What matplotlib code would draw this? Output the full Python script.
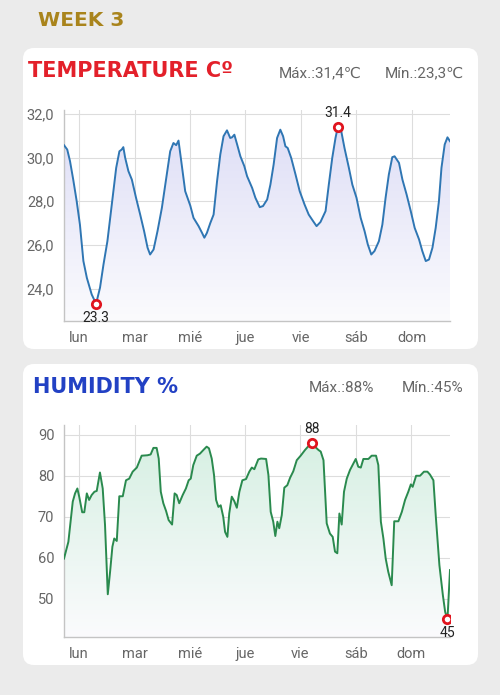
import numpy as np
import matplotlib.pyplot as plt
from matplotlib.patches import FancyBboxPatch
from matplotlib.colors import LinearSegmentedColormap

plt.rcParams['font.family'] = ['Roboto', 'DejaVu Sans']

# week data, x in hours from first reading
days = ['lun', 'mar', 'mié', 'jue', 'vie', 'sáb', 'dom']
first_day_hour = 6.6

temp_hours = [0, 1.4, 2.6, 4.0, 5.5, 6.9, 8.4, 9.9, 12.0, 13.9, 15.6, 17.1, 18.8, 20.7,
              22.6, 24.0, 25.0, 25.7, 26.5, 27.9, 29.4, 31.2, 33.0, 34.7, 36.2, 37.3,
              38.8, 40.5, 42.4, 44.3, 46.0, 47.4, 48.6, 49.6, 50.6, 52.5, 54.7, 56.1,
              58.3, 59.8, 60.8, 61.9, 63.4, 64.8, 66.3, 67.7, 69.1, 70.6, 72.0, 72.8,
              73.8, 75.0, 76.4, 78.1, 79.3, 81.5, 82.9, 84.8, 86.2, 88.0, 89.4, 90.8,
              92.3, 93.7, 94.9, 95.9, 96.9, 98.4, 100.3, 102.1, 104.2, 106.0, 107.9,
              109.4, 111.1, 113.3, 114.7, 116.2, 117.6, 118.6, 120.1, 121.5, 123.4,
              124.9, 126.7, 128.5, 130.2, 131.6, 133.1, 134.5, 136.4, 137.9, 139.3,
              140.7, 142.2, 143.2, 145.1, 146.6, 148.4, 150.2, 151.9, 153.8, 155.2,
              156.7, 158.1, 159.6, 161.0, 162.4, 163.5, 164.9, 166.1, 167.2]
temp_vals = [30.57, 30.37, 29.84, 28.99, 28.0, 26.93, 25.26, 24.49, 23.73, 23.3, 24.04,
             25.1, 26.17, 27.85, 29.53, 30.29, 30.37, 30.48, 29.99, 29.38, 28.99, 28.16,
             27.39, 26.63, 25.87, 25.56, 25.79, 26.63, 27.70, 29.07, 30.29, 30.67, 30.57,
             30.78, 29.99, 28.46, 27.8, 27.24, 26.86, 26.55, 26.33, 26.55, 27.01, 27.39,
             28.92, 30.14, 30.98, 31.25, 30.90, 30.93, 31.05, 30.60, 30.06, 29.61, 29.15,
             28.61, 28.16, 27.73, 27.78, 28.08, 28.76, 29.68, 30.90, 31.28, 30.98, 30.52,
             30.44, 29.99, 29.22, 28.46, 27.85, 27.39, 27.09, 26.86, 27.05, 27.55, 28.76,
             29.99, 30.90, 31.4, 31.21, 30.44, 29.53, 28.76, 28.16, 27.24, 26.63, 26.02,
             25.56, 25.72, 26.17, 26.93, 28.16, 29.22, 30.02, 30.06, 29.76, 28.99, 28.31,
             27.55, 26.78, 26.25, 25.72, 25.26, 25.33, 25.87, 26.78, 28.0, 29.53, 30.60,
             30.93, 30.75]

hum_hours = [0, 1.9, 3.8, 4.8, 5.8, 6.6, 7.9, 8.8, 9.9, 10.9, 12.0, 13.2, 14.2, 15.6,
             16.8, 17.8, 19.0, 20.0, 21.0, 21.8, 22.9, 24.0, 25.5, 26.9, 28.3, 29.8,
             31.6, 33.7, 36.2, 37.6, 38.8, 40.2, 41.1, 42.0, 43.1, 44.3, 45.4, 46.9,
             48.0, 48.9, 50.0, 51.5, 52.9, 54.1, 55.0, 56.1, 57.6, 59.0, 60.5, 61.9,
             62.9, 64.1, 65.1, 66.0, 67.0, 68.0, 69.1, 69.9, 70.9, 71.7, 72.8, 73.9,
             75.0, 76.1, 77.4, 79.0, 80.4, 81.5, 82.6, 84.3, 85.5, 87.7, 88.7, 89.7,
             90.8, 91.7, 92.6, 93.4, 94.5, 95.6, 96.9, 98.1, 99.5, 101.0, 102.7, 104.6,
             106.5, 107.8, 108.9, 110.4, 111.4, 112.6, 113.3, 114.0, 115.4, 116.6, 117.6,
             118.6, 119.5, 120.5, 121.5, 122.7, 124.1, 125.6, 126.6, 127.7, 128.8, 129.9,
             132.1, 133.5, 135.4, 136.4, 137.5, 138.6, 139.6, 140.7, 142.2, 143.3, 145.1,
             146.6, 148.0, 149.4, 150.5, 151.3, 152.8, 154.5, 156.2, 157.7, 158.8, 160.3,
             161.4, 162.9, 164.4, 165.4, 166.4, 167.5]
hum_vals = [59.8, 63.9, 73.7, 75.7, 76.9, 74.9, 71.1, 71.1, 75.7, 74.1, 75.3, 76.1, 76.3,
            80.8, 76.9, 68.0, 51.1, 56.6, 62.7, 64.7, 64.1, 75.0, 75.0, 78.9, 79.3, 81.0,
            82.0, 84.9, 85.0, 85.2, 86.8, 86.8, 84.2, 76.1, 73.3, 71.4, 69.2, 68.1, 75.7,
            75.3, 73.3, 75.3, 76.9, 78.9, 79.3, 82.6, 84.9, 85.4, 86.3, 87.1, 86.7, 84.2,
            80.2, 74.1, 72.4, 72.8, 70.0, 66.3, 65.1, 70.8, 74.9, 73.8, 72.2, 76.1, 78.9,
            79.2, 81.0, 82.0, 81.6, 84.0, 84.2, 84.1, 80.2, 71.2, 68.8, 65.3, 68.8, 67.2,
            70.4, 77.1, 77.7, 79.5, 81.1, 83.8, 84.9, 86.3, 87.5, 88.0, 87.1, 86.3, 85.9,
            83.8, 76.1, 68.4, 65.9, 65.1, 61.5, 61.1, 70.8, 68.1, 76.1, 79.3, 81.4, 83.0,
            84.1, 82.2, 82.0, 84.1, 84.1, 84.9, 84.9, 82.6, 68.8, 64.7, 59.8, 56.6, 53.3,
            68.9, 68.9, 71.2, 74.1, 76.1, 77.9, 77.3, 80.0, 80.0, 81.0, 81.0, 80.3, 78.9,
            69.6, 58.2, 50.9, 46.8, 45.0, 57.0]

temp_ticks = [24, 26, 28, 30, 32]
hum_ticks = [50, 60, 70, 80, 90]

fig = plt.figure(figsize=(5.0, 6.95), dpi=100)
fig.patch.set_facecolor('#ebebeb')

# background layer in pixel coordinates
bg = fig.add_axes([0, 0, 1, 1], zorder=0)
bg.set_xlim(0, 500)
bg.set_ylim(695, 0)
bg.axis('off')
for top, bottom in [(48, 349), (364, 665)]:
    bg.add_patch(FancyBboxPatch((23, top), 455, bottom - top,
                                boxstyle='round,pad=0,rounding_size=11',
                                fc='white', ec='none'))

bg.text(38, 20, 'WEEK 3', color='#a9841c', fontsize=14.5, fontweight='heavy',
        family='DejaVu Sans', va='center', ha='left')
bg.text(28, 71, 'TEMPERATURE Cº', color='#e3202a', fontsize=15, fontweight='heavy',
        family='DejaVu Sans', va='center', ha='left')
bg.text(279, 73, 'Máx.:31,4℃', color='#666666', fontsize=11, va='center', ha='left')
bg.text(385, 73, 'Mín.:23,3℃', color='#666666', fontsize=11, va='center', ha='left')
bg.text(33, 387, 'HUMIDITY %', color='#2241c4', fontsize=15, fontweight='heavy',
        family='DejaVu Sans', va='center', ha='left')
bg.text(309, 388, 'Máx.:88%', color='#666666', fontsize=11, va='center', ha='left')
bg.text(402, 388, 'Mín.:45%', color='#666666', fontsize=11, va='center', ha='left')


def draw_panel(rect, hours, vals, color, fill_color, ylim, yticks, fmt):
    ax = fig.add_axes(rect, zorder=1)
    ax.set_facecolor('none')
    hours = np.array(hours)
    vals = np.array(vals)
    xlim = (hours[0], hours[-1])

    poly = ax.fill_between(hours, vals, ylim[0], color='none', lw=0)
    grad = np.linspace(1, 0, 256).reshape(-1, 1)
    cmap = LinearSegmentedColormap.from_list('fade', ['#fbfbfd', fill_color])
    im = ax.imshow(grad, extent=[xlim[0], xlim[1], ylim[0], ylim[1]], aspect='auto',
                   cmap=cmap, origin='upper', zorder=1)
    im.set_clip_path(poly.get_paths()[0], transform=ax.transData)

    ax.plot(hours, vals, color=color, lw=1.4, zorder=3)

    # max / min markers
    imax, imin = np.argmax(vals), np.argmin(vals)
    for i, dy, va in [(imax, 5, 'bottom'), (imin, -5, 'top')]:
        ax.plot(hours[i], vals[i], 'o', ms=6, mfc='white', mec='#e0141e', mew=2, zorder=4)
        lab = ('%.1f' % vals[i]) if fmt == 'temp' else ('%d' % round(vals[i]))
        ax.annotate(lab, (hours[i], vals[i]), xytext=(0, dy), textcoords='offset points',
                    ha='center', va=va, fontsize=10, color='#222222', zorder=5)

    ax.set_xlim(*xlim)
    ax.set_ylim(*ylim)
    ax.set_xticks([first_day_hour + 24 * k for k in range(len(days))])
    ax.set_xticklabels(days)
    ax.set_yticks(yticks)
    if fmt == 'temp':
        ax.set_yticklabels([('%.1f' % t).replace('.', ',') for t in yticks])
    ax.tick_params(length=0, labelsize=10.5, labelcolor='#666666', pad=7)
    ax.grid(color='#dddddd', lw=0.8, zorder=0)
    ax.set_axisbelow(True)
    for s in ['top', 'right']:
        ax.spines[s].set_visible(False)
    for s in ['left', 'bottom']:
        ax.spines[s].set_color('#c4c4c4')
        ax.spines[s].set_linewidth(1)
    return ax


draw_panel([0.128, 0.5377, 0.772, 0.3046], temp_hours, temp_vals, '#2f76b3', '#dcdcf6',
           (22.5, 32.2), temp_ticks, 'temp')
draw_panel([0.128, 0.0830, 0.772, 0.305], hum_hours, hum_vals, '#2a8a4e', '#d4efe1',
           (40.6, 92.3), hum_ticks, 'hum')

fig.savefig('out.png', dpi=100, facecolor=fig.get_facecolor())
